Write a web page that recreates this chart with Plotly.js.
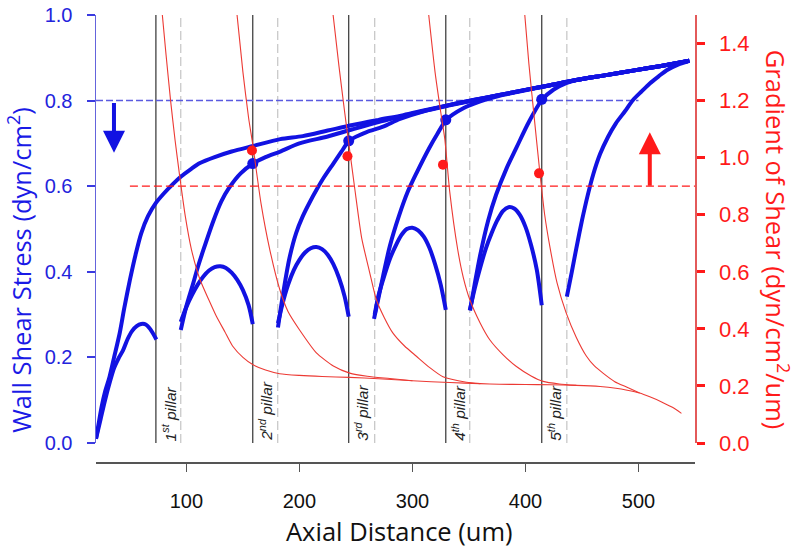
<!DOCTYPE html>
<html>
<head>
<meta charset="utf-8">
<script src="https://cdn.plot.ly/plotly-3.0.1.min.js"></script>
<style>html,body{margin:0;padding:0;background:#fff;}#chart{width:796px;height:553px;}</style>
</head>
<body>
<div id="chart"></div>
<script>
// ---------- data ----------
const pillarX = [73, 158.7, 243.6, 329.5, 414.4];
const pillarEndX = [95, 180.8, 266.6, 350.7, 436.6];
const pillarLabels = ['1<sup>st</sup> pillar', '2<sup>nd</sup> pillar', '3<sup>rd</sup> pillar', '4<sup>th</sup> pillar', '5<sup>th</sup> pillar'];

// wall shear stress, developing curves (left axis)
const riseX0 = [20, 22, 25, 28, 32, 36, 41, 45, 50, 55, 60, 66, 73, 80, 88, 95, 104, 112, 125, 140, 159, 183, 203, 225, 247, 270, 292, 312, 333, 355, 377, 400, 422, 445, 470, 495, 520, 545];
const rise0  = [0.01, 0.04, 0.085, 0.12, 0.155, 0.2, 0.257, 0.315, 0.381, 0.44, 0.49, 0.53, 0.561, 0.583, 0.605, 0.622, 0.64, 0.654, 0.668, 0.681, 0.694, 0.71, 0.717, 0.73, 0.743, 0.755, 0.766, 0.778, 0.79, 0.802, 0.813, 0.825, 0.836, 0.848, 0.859, 0.87, 0.881, 0.893];
const riseX1 = [95, 100, 106, 110, 115, 124, 131, 138, 148, 159, 170, 183, 200, 225, 247, 270, 292, 312, 333, 355, 377, 400, 422, 445, 470, 495, 520, 545];
const rise1  = [0.264, 0.32, 0.373, 0.41, 0.451, 0.52, 0.565, 0.597, 0.63, 0.653, 0.668, 0.681, 0.70, 0.716, 0.733, 0.75, 0.764, 0.777, 0.79, 0.802, 0.813, 0.825, 0.836, 0.848, 0.859, 0.87, 0.881, 0.893];
const riseX2 = [181, 185, 191, 197, 203, 209, 215, 222, 230, 237, 244, 252, 260, 274, 289, 310, 333, 355, 377, 400, 422, 445, 470, 495, 520, 545];
const rise2  = [0.27, 0.34, 0.43, 0.49, 0.53, 0.562, 0.591, 0.622, 0.653, 0.68, 0.706, 0.718, 0.727, 0.739, 0.757, 0.775, 0.789, 0.801, 0.813, 0.825, 0.836, 0.848, 0.859, 0.87, 0.881, 0.893];
const riseX3 = [266, 270, 274, 280, 288, 296, 304, 315, 322, 330, 345, 360, 377, 400, 422, 445, 470, 495, 520, 545];
const rise3  = [0.29, 0.34, 0.39, 0.46, 0.53, 0.588, 0.633, 0.69, 0.722, 0.755, 0.782, 0.798, 0.811, 0.824, 0.836, 0.848, 0.859, 0.87, 0.881, 0.893];
const riseX4 = [351, 355, 360, 367, 374, 383, 392, 403, 415, 425, 436, 445, 470, 495, 520, 545];
const rise4  = [0.31, 0.37, 0.44, 0.52, 0.58, 0.64, 0.69, 0.75, 0.803, 0.826, 0.841, 0.848, 0.859, 0.87, 0.881, 0.893];
const riseX5 = [436.6, 441, 445, 450, 455, 460, 466, 473, 480, 488, 495, 503, 510, 518, 525, 535, 545];
const rise5  = [0.342, 0.4, 0.455, 0.52, 0.578, 0.628, 0.675, 0.715, 0.747, 0.775, 0.801, 0.822, 0.84, 0.857, 0.871, 0.884, 0.893];

// wall shear stress humps between pillars (left axis)
const humpX0 = [20, 24, 28, 32, 36, 40, 44, 48, 52, 56, 60, 64, 68, 73.4];
const hump0  = [0.01, 0.055, 0.1, 0.14, 0.175, 0.198, 0.217, 0.243, 0.262, 0.273, 0.278, 0.277, 0.266, 0.242];
const humpX1 = [95, 100, 105, 110, 115, 120, 125, 130, 135, 140, 145, 150, 155, 158.7];
const hump1  = [0.283, 0.318, 0.346, 0.37, 0.389, 0.403, 0.411, 0.413, 0.409, 0.398, 0.381, 0.357, 0.322, 0.278];
const humpX2 = [181, 185, 190, 195, 200, 205, 210, 215, 220, 225, 230, 235, 240, 243.6];
const hump2  = [0.28, 0.325, 0.37, 0.404, 0.428, 0.445, 0.455, 0.458, 0.453, 0.44, 0.418, 0.386, 0.342, 0.295];
const humpX3 = [266.6, 270, 275, 280, 285, 290, 295, 300, 305, 310, 315, 320, 325, 329.5];
const hump3  = [0.30, 0.345, 0.39, 0.43, 0.46, 0.485, 0.5, 0.503, 0.497, 0.482, 0.456, 0.418, 0.37, 0.311];
const humpX4 = [350.7, 355, 360, 365, 370, 375, 380, 385, 390, 395, 400, 405, 410, 414.4];
const hump4  = [0.31, 0.36, 0.41, 0.455, 0.49, 0.52, 0.542, 0.551, 0.548, 0.533, 0.505, 0.462, 0.405, 0.322];

// WSS values at pillars (blue dots)
const wssDotX = [158.7, 243.6, 329.5, 414.4];
const wssDot  = [0.653, 0.706, 0.755, 0.803];

// gradient of shear (right axis)
const gradX1 = [78.7, 82, 86, 90, 94, 99, 104.4, 112, 120, 126.5, 134, 141, 150, 159, 170, 182.5, 200, 220, 244.5, 270, 300, 333, 360, 377, 400, 421.5, 445, 466, 480, 490, 501, 510, 520, 530, 538];
const grad1  = [1.5, 1.36, 1.2, 1.06, 0.937, 0.795, 0.679, 0.573, 0.5, 0.444, 0.39, 0.339, 0.3, 0.274, 0.256, 0.243, 0.237, 0.233, 0.23, 0.225, 0.218, 0.212, 0.208, 0.206, 0.205, 0.204, 0.202, 0.198, 0.192, 0.185, 0.175, 0.162, 0.145, 0.125, 0.104];
const gradX2 = [144.8, 150, 155, 158.7, 166, 173.7, 182.6, 190, 200, 215, 230, 244.5, 260, 280, 300];
const grad2  = [1.5, 1.3, 1.14, 1.046, 0.84, 0.679, 0.538, 0.46, 0.397, 0.316, 0.27, 0.245, 0.234, 0.226, 0.218];
const gradX3 = [229.8, 235, 240, 244, 249, 255, 262, 268, 275, 282.6, 293, 303.5, 315, 327, 347.8, 360];
const grad3  = [1.5, 1.32, 1.16, 1.04, 0.89, 0.72, 0.6, 0.503, 0.44, 0.386, 0.34, 0.304, 0.265, 0.232, 0.213, 0.208];
const gradX4 = [314.4, 320, 325, 328.6, 333, 340, 345, 350.7, 360, 368.4, 380, 392, 405, 415.6, 430, 445];
const grad4  = [1.5, 1.3, 1.16, 1.066, 0.88, 0.679, 0.58, 0.503, 0.42, 0.362, 0.31, 0.268, 0.235, 0.216, 0.207, 0.202];
const gradX5 = [399.4, 403, 407, 412.7, 417, 421.5, 428, 436, 445, 454, 461, 468.6, 479, 489.4, 501];
const grad5  = [1.5, 1.33, 1.17, 0.949, 0.8, 0.69, 0.56, 0.456, 0.37, 0.304, 0.27, 0.245, 0.215, 0.196, 0.175];

// gradient at pillars (red dots)
const gradDotX = [158, 242.5, 327, 412];
const gradDot  = [1.025, 1.005, 0.975, 0.945];

// threshold lines
const wssRefX = [20, 500];
const wssRefY = [0.8, 0.8];
const gradRefX = [50, 550];
const gradRefY = [0.9, 0.9];

// arrows: [x, from, to]
const wssArrow = [35.9, 0.798, 0.678];
const gradArrow = [510, 0.896, 1.089];

// ---------- styling ----------
const BLUE = '#1212e2';
const RED = '#ff1a1a';
const RED_LINE = '#ec3a34';

const traces = [];
pillarX.forEach(p => traces.push({x:[p,p], y:[0,1], mode:'lines', line:{color:'#333', width:1.2}, hoverinfo:'skip'}));
pillarEndX.forEach(p => traces.push({x:[p,p], y:[0,1], mode:'lines', line:{color:'#c4c4c4', width:1.2, dash:'9px,4px'}, hoverinfo:'skip'}));
traces.push({x:wssRefX, y:wssRefY, mode:'lines', line:{color:'#5a5ae0', width:1.5, dash:'7px,3px'}});

const riseXs = [riseX0, riseX1, riseX2, riseX3, riseX4, riseX5];
const rises = [rise0, rise1, rise2, rise3, rise4, rise5];
riseXs.forEach((xs, i) => traces.push({x:xs, y:rises[i], mode:'lines', line:{color:BLUE, width:4, shape:'spline', smoothing:0.8}}));
const humpXs = [humpX0, humpX1, humpX2, humpX3, humpX4];
const humps = [hump0, hump1, hump2, hump3, hump4];
humpXs.forEach((xs, i) => traces.push({x:xs, y:humps[i], mode:'lines', line:{color:BLUE, width:4, shape:'spline', smoothing:0.8}}));
traces.push({x:wssDotX, y:wssDot, mode:'markers', marker:{color:BLUE, size:11}});

// right axis traces
traces.push({x:gradRefX, y:gradRefY, yaxis:'y2', mode:'lines', line:{color:RED, width:1.3, dash:'8px,4px'}});
const gradXs = [gradX1, gradX2, gradX3, gradX4, gradX5];
const grads = [grad1, grad2, grad3, grad4, grad5];
gradXs.forEach((xs, i) => traces.push({x:xs, y:grads[i], yaxis:'y2', mode:'lines', line:{color:RED_LINE, width:1.1, shape:'spline', smoothing:0.6}}));
traces.push({x:gradDotX, y:gradDot, yaxis:'y2', mode:'markers', marker:{color:RED, size:10}});

const annotations = [];
pillarX.forEach((p, i) => annotations.push({
  x:p, y:0, xref:'x', yref:'y', xanchor:'left', yanchor:'bottom', textangle:-90, xshift:1,
  text:'<i>' + pillarLabels[i] + '</i>', showarrow:false,
  font:{family:'Liberation Sans, Arial, sans-serif', size:15.5, color:'#222'}
}));
annotations.push({x:wssArrow[0], y:wssArrow[2], ax:wssArrow[0], ay:wssArrow[1], xref:'x', yref:'y', axref:'x', ayref:'y',
  showarrow:true, arrowhead:2, arrowsize:1.1, arrowwidth:4, arrowcolor:BLUE, text:''});
annotations.push({x:gradArrow[0], y:gradArrow[2], ax:gradArrow[0], ay:gradArrow[1], xref:'x', yref:'y2', axref:'x', ayref:'y2',
  showarrow:true, arrowhead:2, arrowsize:1.1, arrowwidth:4, arrowcolor:RED, text:''});
// axis titles
const titleFont = 'Open Sans, Noto Sans, sans-serif';
annotations.push({text:'Axial Distance (um)', xref:'paper', yref:'paper', x:0.506, y:-0.154, xanchor:'center', yanchor:'middle', showarrow:false,
  font:{family:titleFont, size:25.5, color:'#111'}});
annotations.push({text:'Wall Shear Stress (dyn/cm<sup>2</sup>)', xref:'paper', yref:'paper', x:-0.127, y:0.43, xanchor:'center', yanchor:'middle', textangle:-90, showarrow:false,
  font:{family:titleFont, size:25.5, color:'#1a1ae6'}});
annotations.push({text:'Gradient of Shear (dyn/cm<sup>2</sup>/um)', xref:'paper', yref:'paper', x:1.137, y:0.497, xanchor:'center', yanchor:'middle', textangle:90, showarrow:false,
  font:{family:titleFont, size:25.5, color:RED}});

const tickFont = 'Liberation Sans, Arial, sans-serif';
const layout = {
  width:796, height:553,
  margin:{l:96, r:101, t:15, b:91, pad:0},
  paper_bgcolor:'#fff', plot_bgcolor:'#fff',
  showlegend:false,
  xaxis:{range:[20,550], anchor:'free', position:0, showline:true, linecolor:'#555', linewidth:1.5,
    ticks:'outside', ticklen:8, tickwidth:1.5, tickcolor:'#555', tickvals:[100,200,300,400,500],
    tickfont:{family:tickFont, size:20, color:'#111'}, ticklabelstandoff:12,
    showgrid:false, zeroline:false},
  yaxis:{domain:[0.0425,1], range:[0,1], anchor:'x', showline:true, linecolor:'#6464dc', linewidth:1.5,
    ticks:'outside', ticklen:8, tickwidth:2, tickcolor:'#3a3ae0', tickvals:[0,0.2,0.4,0.6,0.8,1.0], tickformat:'.1f',
    tickfont:{family:tickFont, size:20, color:'#2323dc'}, ticklabelstandoff:10,
    showgrid:false, zeroline:false},
  yaxis2:{overlaying:'y', side:'right', anchor:'x', range:[0,1.5], showline:true, linecolor:'#e35a5a', linewidth:1.5,
    ticks:'outside', ticklen:8, tickwidth:3, tickcolor:RED, tickvals:[0,0.2,0.4,0.6,0.8,1.0,1.2,1.4], tickformat:'.1f',
    tickfont:{family:tickFont, size:22, color:RED}, ticklabelstandoff:10,
    showgrid:false, zeroline:false},
  annotations:annotations
};
Plotly.newPlot('chart', traces, layout, {staticPlot:true, displayModeBar:false});
</script>
</body>
</html>
